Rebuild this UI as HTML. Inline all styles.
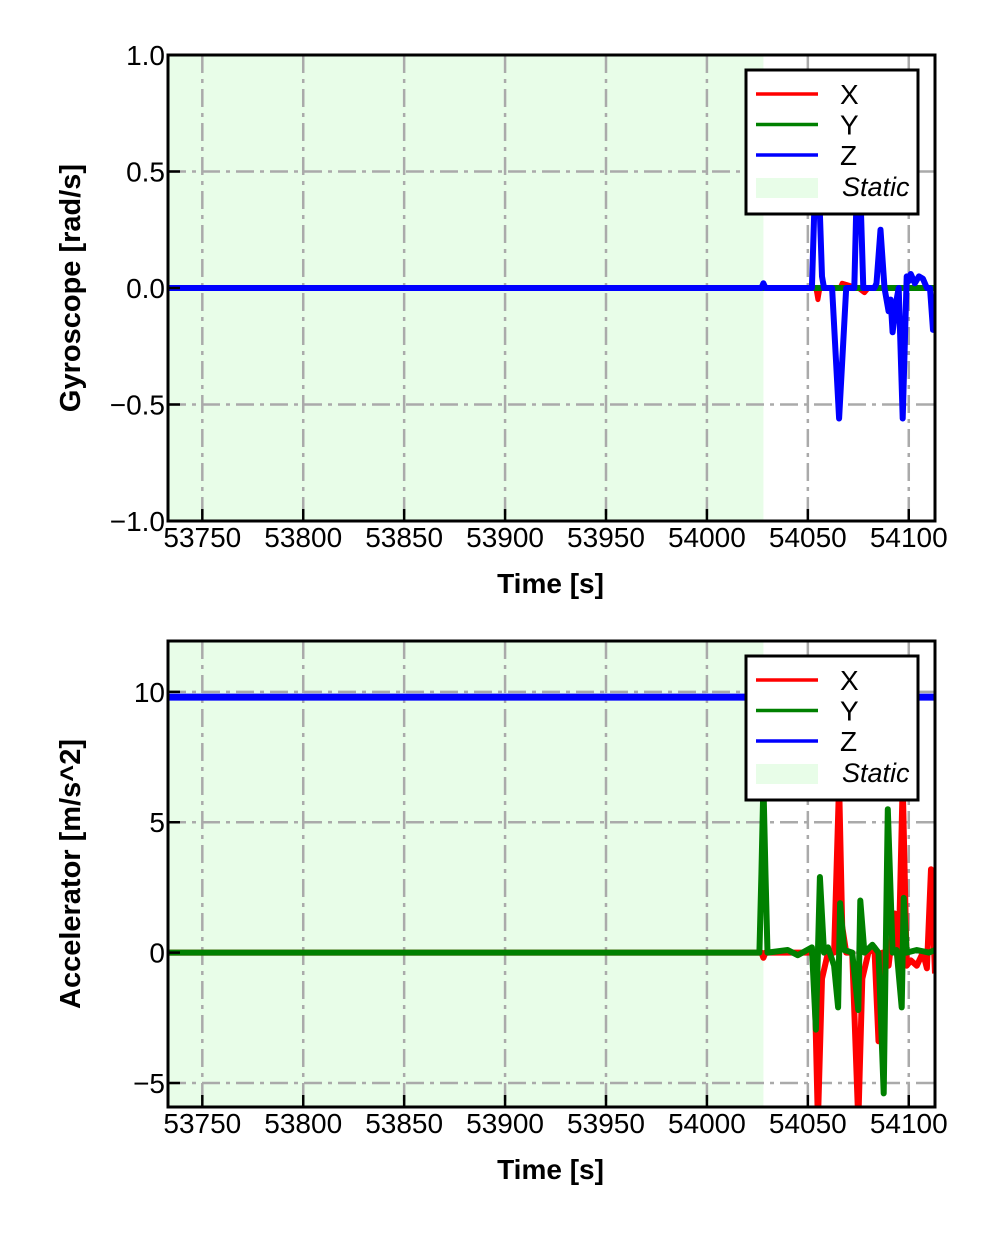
<!DOCTYPE html>
<html><head><meta charset="utf-8"><style>
body{margin:0;background:#fff}
svg text{font-family:"Liberation Sans",sans-serif}
</style></head><body>
<svg id="fig" width="992" height="1228" viewBox="0 0 992 1228" xmlns="http://www.w3.org/2000/svg"></svg>
<script>
// ---- data ----
const xTicks=[53750,53800,53850,53900,53950,54000,54050,54100];
const staticEnd=54028;
const gyroYTicks=[1.0,0.5,0.0,-0.5,-1.0];
const gyroYLabels=["1.0","0.5","0.0","\u22120.5","\u22121.0"];
const accYTicks=[10,5,0,-5];
const accYLabels=["10","5","0","\u22125"];
const gyroXt=[53733,54054,54055,54056,54057,54066,54067,54075,54078,54080,54090,54113];
const gyroXv=[0,0,-0.05,0,0,0,0.02,0,-0.02,0,0,0];
const gyroYt=[53733,54113];
const gyroYv=[0,0];
const gyroZt=[53733,54027,54028,54029,54050,54052,54054.5,54057,54058,54062,54065.5,54069,54073,54075,54077.5,54083,54084,54086,54088,54090,54091,54092,54094,54095,54097,54099,54100,54101,54103,54105,54107,54109,54110.5,54112,54113];
const gyroZv=[0,0,0.02,0,0,0,0.7,0.05,0,0,-0.56,0,0,0.7,0,0,0.02,0.25,0,-0.1,-0.05,-0.19,-0.05,0,-0.56,0.05,0.03,0.06,0.02,0.05,0.04,0,0,-0.18,-0.15];
const accXt=[53733,54027,54028,54029,54050,54053,54055,54057,54060,54063,54065.5,54067,54069,54072,54075,54077,54080,54083,54085,54087,54090,54093,54095,54097,54099,54101,54104,54107,54109,54111,54113];
const accXv=[0,0,-0.2,0,0,0,-6.5,-1,0,0,6.5,1,0,0,-6.5,-1,0,0.2,-3.4,0,-0.5,1.5,0,6.5,-0.5,-0.3,-0.5,0,-0.6,3.2,-0.8];
const accYt=[53733,54026,54027,54028,54029,54030,54040,54045,54052,54054,54056,54058,54060,54063,54065,54066,54068,54072,54075,54076,54078,54082,54085,54087.6,54089.6,54092,54094,54096.5,54097.5,54099,54104,54110,54113];
const accYv=[0,0,3,6.5,3,0,0.1,-0.1,0.2,-2.95,2.9,0,0.2,-0.5,-2.1,1.9,0.1,0,-2.2,2,0,0.3,0,-5.4,5.5,0,0.1,-2.1,2.1,0,0.1,0,0.1];
const accZt=[53733,54113];
const accZv=[9.8,9.8];

const NS="http://www.w3.org/2000/svg";
const svg=document.getElementById('fig');
function mk(tag,attrs,parent){const e=document.createElementNS(NS,tag);for(const k in attrs)e.setAttribute(k,attrs[k]);(parent||svg).appendChild(e);return e;}
const DASH='18 6 4 6';
function panel(cfg){
  const L=168,R=935,T=cfg.top,B=cfg.top+466;
  const x0=53733,x1=54113;
  const sx=v=>L+(v-x0)/(x1-x0)*(R-L);
  const sy=v=>B-(v-cfg.ymin)/(cfg.ymax-cfg.ymin)*(B-T);
  const g=mk('g',{});
  
  
  const cp='clip'+cfg.name;
  const d=mk('clipPath',{id:cp},g);mk('rect',{x:L,y:T,width:R-L,height:B-T},d);
  const bg=mk('rect',{x:L,y:T,width:sx(staticEnd)-L,height:B-T,fill:'#e8fde8'},g);
  
  
  xTicks.forEach(t=>{const l=mk('line',{x1:sx(t),x2:sx(t),y1:T,y2:B,stroke:'#aaa','stroke-width':2.5,'stroke-dasharray':DASH},g);
    });
  cfg.yt.forEach(t=>{const l=mk('line',{x1:L,x2:R,y1:sy(t),y2:sy(t),stroke:'#aaa','stroke-width':2.5,'stroke-dasharray':DASH},g);
    });
  const lg=mk('g',{'clip-path':'url(#'+cp+')'},g);
  cfg.series.forEach(s=>{
    const pts=s.t.map((t,i)=>sx(t).toFixed(1)+','+sy(s.v[i]).toFixed(1)).join(' ');
    const p=mk('polyline',{points:pts,fill:'none',stroke:s.c,'stroke-width':s.w,'stroke-linejoin':'round'},lg);
    
  });
  xTicks.forEach(t=>{mk('line',{x1:sx(t),x2:sx(t),y1:B,y2:B-12,stroke:'#000','stroke-width':2.5},g);
    const tx=mk('text',{x:sx(t),y:B+26,'font-size':28,'text-anchor':'middle'},g);tx.textContent=t;
    });
  cfg.yt.forEach((t,i)=>{mk('line',{x1:L,x2:L+12,y1:sy(t),y2:sy(t),stroke:'#000','stroke-width':2.5},g);
    const tx=mk('text',{x:L-3,y:sy(t)+10,'font-size':28,'text-anchor':'end'},g);tx.textContent=cfg.yl[i];
    });
  mk('rect',{x:L,y:T,width:R-L,height:B-T,fill:'none',stroke:'#000','stroke-width':3},g);
  const xl=mk('text',{x:(L+R)/2-1,y:B+72,'font-size':28,'font-weight':'bold','text-anchor':'middle'},g);xl.textContent='Time [s]';
  
  const yc=(T+B)/2;
  const yl=mk('text',{x:80,y:yc,'font-size':29,'font-weight':'bold','text-anchor':'middle',transform:'rotate(-90 80 '+yc+')'},g);yl.textContent=cfg.ylabel;
  
  const lgT=T+15;
  const leg=mk('g',{},g);
  
  mk('rect',{x:746,y:lgT,width:172,height:144,fill:'#fff',stroke:'#000','stroke-width':3},leg);
  [['X','#f00'],['Y','#008000'],['Z','#00f']].forEach((e,i)=>{
    const y=lgT+24+i*30.5;
    mk('line',{x1:756,x2:818,y1:y,y2:y,stroke:e[1],'stroke-width':3.5},leg);
    const t=mk('text',{x:840,y:y+10,'font-size':28},leg);t.textContent=e[0];
    
  });
  mk('rect',{x:756,y:lgT+108,width:62,height:20,fill:'#e8fde8'},leg);
  const st=mk('text',{x:842,y:lgT+126,'font-size':27,'font-style':'italic','font-family':'Liberation Serif, serif'},leg);st.textContent='Static';
  
}
panel({name:'gyroscope-panel',top:55,ymin:-1,ymax:1,yt:gyroYTicks,yl:gyroYLabels,ylabel:'Gyroscope [rad/s]',
 series:[{n:'gyro-x',t:gyroXt,v:gyroXv,c:'#f00',w:5},{n:'gyro-y',t:gyroYt,v:gyroYv,c:'#008000',w:6},{n:'gyro-z',t:gyroZt,v:gyroZv,c:'#00f',w:6}]});
panel({name:'accelerometer-panel',top:641,ymin:-5.92,ymax:11.95,yt:accYTicks,yl:accYLabels,ylabel:'Accelerator [m/s^2]',
 series:[{n:'acc-z',t:accZt,v:accZv,c:'#00f',w:7},{n:'acc-x',t:accXt,v:accXv,c:'#f00',w:6},{n:'acc-y',t:accYt,v:accYv,c:'#008000',w:6}]});
</script>
</body></html>
